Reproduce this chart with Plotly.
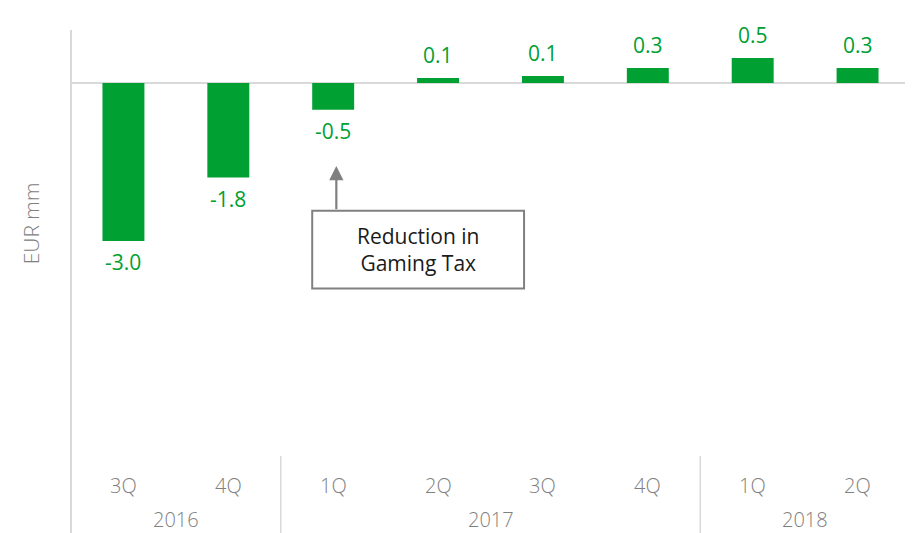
import plotly.graph_objects as go

quarters = ["3Q", "4Q", "1Q", "2Q", "3Q", "4Q", "1Q", "2Q"]
years = ["2016", "2016", "2017", "2017", "2017", "2017", "2018", "2018"]
values = [-2.99, -1.79, -0.51, 0.09, 0.13, 0.28, 0.47, 0.28]
year_labels = ["2016", "2017", "2018"]
y_title = "EUR mm"
callout = "Reduction in<br>Gaming Tax"

GREEN = "#00A032"
GRAY_TXT = "#808080"
GRID = "#d9d9d9"
FONT = "Open Sans"

xs = list(range(len(values)))

fig = go.Figure()
fig.add_trace(go.Bar(
    x=xs, y=values, marker=dict(color=GREEN, line=dict(width=0)),
    width=0.4, showlegend=False, hoverinfo="skip",
))

shapes = []
# y axis line extending below plot
shapes.append(dict(type="line", xref="paper", yref="paper", x0=0, x1=0, y0=-0.2, y1=1,
                   line=dict(color=GRID, width=2), layer="below"))
# zero line
shapes.append(dict(type="line", xref="paper", yref="y", x0=0, x1=1, y0=0, y1=0,
                   line=dict(color=GRID, width=2), layer="below"))
# year separators
bounds = []
for i in range(1, len(years)):
    if years[i] != years[i - 1]:
        bounds.append(i - 0.5)
bounds.append(len(years) - 0.5)
for b in bounds:
    shapes.append(dict(type="line", xref="x", yref="paper", x0=b, x1=b, y0=-0.2, y1=-0.007,
                       line=dict(color=GRID, width=1.5)))
# callout box
shapes.append(dict(type="rect", xref="x", yref="y", x0=1.80, x1=3.82, y0=-3.89, y1=-2.42,
                   line=dict(color="#808080", width=2), fillcolor="white"))

annotations = []
# value labels
for i, v in enumerate(values):
    annotations.append(dict(x=i, y=v, xref="x", yref="y", text=f"{v:.1f}", showarrow=False,
                            yanchor="middle", yshift=23 if v >= 0 else -21,
                            font=dict(size=21, color=GREEN, family=FONT)))
for i, q in enumerate(quarters):
    annotations.append(dict(x=i, y=-0.0757, xref="x", yref="paper", text=q, showarrow=False,
                            font=dict(size=20, color=GRAY_TXT, family=FONT, weight=300),
                            yanchor="middle"))
for yl in year_labels:
    idx = [i for i, y in enumerate(years) if y == yl]
    annotations.append(dict(x=(idx[0] + idx[-1]) / 2, y=-0.158, xref="x", yref="paper", text=yl,
                            showarrow=False, yanchor="middle",
                            font=dict(size=20, color=GRAY_TXT, family=FONT, weight=300)))
annotations.append(dict(x=2.81, y=-3.155, xref="x", yref="y", text=callout, showarrow=False,
                        font=dict(size=21, color="#1a1a1a", family=FONT), align="center"))
annotations.append(dict(x=2.03, y=-1.57, xref="x", yref="y", ax=2.03, ay=-2.42,
                        axref="x", ayref="y", text="", showarrow=True, arrowhead=2,
                        arrowsize=1.3, arrowwidth=2.2, arrowcolor="#808080",
                        startstandoff=0, standoff=0))
annotations.append(dict(x=-0.0484, y=0.544, xref="paper", yref="paper", text=y_title,
                        textangle=-90, showarrow=False, xanchor="center", yanchor="middle",
                        font=dict(size=21, color=GRAY_TXT, family=FONT, weight=300)))

fig.update_layout(
    width=905, height=525,
    margin=dict(l=63, r=3, t=22, b=80),
    plot_bgcolor="white", paper_bgcolor="white",
    bargap=0.6,
    xaxis=dict(range=[-0.5, 7.5], showticklabels=False, showgrid=False, zeroline=False,
               showline=False, ticks=""),
    yaxis=dict(range=[-7, 1], showticklabels=False, showgrid=False, zeroline=False,
               showline=False, ticks=""),
    shapes=shapes, annotations=annotations,
    font=dict(family=FONT),
)

fig.write_html("out.html")
